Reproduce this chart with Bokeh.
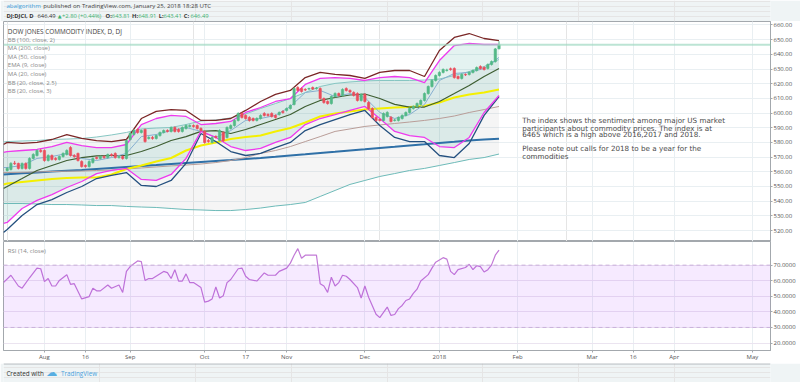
from bokeh.plotting import figure
from bokeh.layouts import column
from bokeh.models import (ColumnDataSource, FixedTicker, Grid, Label, Span, BoxAnnotation,
                          PrintfTickFormatter, Range1d)
from bokeh.embed import file_html
from bokeh.resources import INLINE

# ---------------- data ----------------
bar_index = list(range(133))   # trading-day index, 0 = 2017-07-18, 132 = 2018-01-25
opens = [560.9, 561.6, 565.9, 565.7, 562.3, 565.7, 562.3, 569.1, 571.1, 574.5,
         574.5, 567.7, 571.1, 569.1, 568.4, 570.4, 571.8, 576.5, 571.1, 572.5,
         567.0, 564.3, 563.6, 566.3, 569.7, 569.1, 570.4, 569.7, 571.8, 572.5,
         569.7, 570.4, 569.1, 582.0, 585.4, 588.8, 586.8, 588.8, 582.7, 583.4,
         582.7, 584.7, 586.8, 588.1, 587.5, 590.2, 588.8, 587.5, 589.5, 590.9,
         591.5, 591.5, 589.5, 587.5, 581.3, 580.0, 584.0, 581.3, 586.8, 583.4,
         589.5, 591.5, 595.0, 599.7, 598.4, 597.0, 596.3, 595.0, 596.3, 599.7,
         599.0, 599.7, 598.4, 599.0, 601.1, 601.8, 603.1, 605.9, 617.4, 616.7,
         616.1, 616.4, 617.4, 616.7, 616.7, 609.9, 607.9, 606.5, 611.3, 613.3,
         612.0, 616.7, 615.4, 614.0, 613.3, 608.6, 612.7, 607.2, 603.1, 597.0,
         595.6, 595.0, 597.7, 597.0, 595.0, 595.0, 596.3, 598.4, 600.4, 603.1,
         604.5, 605.9, 608.6, 613.3, 618.1, 622.2, 625.6, 627.7, 629.0, 630.2,
         630.4, 624.9, 623.6, 626.3, 626.3, 627.7, 629.0, 631.7, 631.0, 630.4,
         633.1, 635.1, 643.81]
closes = [562.3, 565.7, 565.5, 562.3, 565.7, 562.3, 569.1, 571.8, 574.5, 573.8,
          567.7, 571.1, 568.4, 568.4, 570.4, 572.5, 574.5, 571.1, 570.4, 567.7,
          563.6, 563.6, 567.0, 569.1, 569.1, 570.4, 569.7, 571.8, 571.1, 569.7,
          570.4, 569.1, 581.3, 586.1, 588.1, 586.8, 588.1, 580.6, 583.4, 582.7,
          584.7, 586.8, 588.1, 587.5, 590.2, 587.5, 587.5, 590.2, 591.5, 591.5,
          590.9, 589.5, 588.1, 580.0, 580.6, 583.4, 583.4, 588.1, 581.3, 590.2,
          591.5, 595.0, 599.7, 597.0, 596.3, 595.0, 595.0, 596.3, 598.4, 598.4,
          598.4, 597.7, 597.0, 600.4, 600.4, 603.1, 605.2, 616.7, 615.4, 614.7,
          615.7, 616.7, 616.4, 617.1, 609.9, 607.2, 606.5, 611.3, 613.3, 612.0,
          616.1, 615.4, 614.4, 612.0, 608.6, 612.7, 607.9, 603.1, 597.0, 595.0,
          595.0, 599.7, 600.4, 594.3, 595.3, 597.0, 598.4, 600.4, 603.1, 604.5,
          606.5, 608.6, 613.3, 618.1, 622.2, 625.6, 627.7, 629.7, 629.3, 629.6,
          624.2, 623.6, 626.3, 626.0, 627.7, 629.0, 631.0, 630.4, 629.7, 633.1,
          635.1, 643.69, 646.49]
highs = [563.2, 566.5, 567.4, 566.2, 566.3, 566.4, 569.8, 572.6, 575.3, 575.6,
         575.2, 571.9, 571.8, 569.9, 571.0, 573.2, 575.3, 577.4, 572.0, 573.1,
         567.8, 565.0, 567.8, 569.8, 570.5, 571.0, 571.2, 572.4, 572.5, 573.2,
         571.0, 571.2, 582.0, 587.0, 589.0, 589.6, 588.8, 589.5, 584.2, 584.3,
         585.4, 587.4, 588.8, 588.9, 590.9, 590.9, 589.6, 590.9, 592.3, 592.3,
         592.2, 592.2, 590.3, 588.2, 582.3, 584.2, 584.8, 588.9, 587.5, 590.9,
         592.3, 595.8, 600.5, 600.5, 599.1, 597.8, 597.0, 597.1, 599.1, 600.6,
         599.8, 600.5, 599.1, 601.1, 601.9, 603.8, 605.9, 617.5, 618.3, 617.5,
         616.9, 617.3, 618.1, 617.8, 617.5, 610.6, 608.6, 612.0, 614.1, 614.0,
         616.8, 617.5, 616.1, 614.8, 614.1, 613.4, 613.5, 608.0, 603.9, 597.8,
         596.3, 600.4, 601.2, 598.0, 596.0, 597.7, 599.1, 601.1, 603.8, 605.2,
         607.2, 609.3, 614.0, 618.8, 622.9, 626.3, 628.4, 630.4, 630.2, 631.0,
         631.1, 625.6, 627.0, 627.0, 628.4, 629.7, 631.7, 632.5, 631.8, 633.8,
         635.8, 644.3, 648.91]
lows = [560.2, 560.9, 564.7, 561.6, 561.6, 561.5, 561.6, 568.4, 570.4, 573.0,
        566.9, 567.0, 567.7, 567.6, 567.7, 569.7, 571.1, 570.4, 569.6, 567.0,
        562.9, 562.8, 562.9, 565.6, 568.4, 568.4, 568.9, 569.0, 570.4, 569.0,
        569.0, 568.3, 568.4, 581.3, 584.7, 586.0, 586.1, 579.9, 582.0, 581.9,
        582.0, 584.0, 586.1, 586.8, 586.8, 586.8, 586.7, 586.8, 588.8, 590.2,
        590.1, 588.8, 587.4, 579.2, 579.8, 579.3, 582.6, 580.6, 580.5, 582.7,
        588.8, 590.8, 594.3, 596.3, 595.6, 594.2, 594.3, 594.3, 595.6, 597.7,
        597.6, 597.0, 596.3, 598.3, 599.6, 601.1, 602.4, 605.2, 614.7, 614.0,
        615.0, 615.7, 615.7, 616.0, 609.2, 606.4, 605.8, 605.8, 610.6, 611.3,
        611.3, 614.7, 613.7, 611.3, 607.9, 607.9, 607.2, 602.4, 596.3, 594.2,
        594.3, 594.3, 597.0, 593.6, 594.3, 594.3, 595.6, 597.7, 599.7, 602.4,
        603.8, 605.2, 607.9, 612.6, 617.4, 621.5, 624.9, 627.0, 628.3, 628.9,
        623.5, 622.9, 622.9, 625.3, 625.6, 627.0, 628.3, 629.7, 629.0, 629.7,
        632.4, 634.4, 643.41]

# indicator lines, read every 4th bar (first point = left edge of the pane)
ind_bars = [-1, 0, 4, 8, 12, 16, 20, 24, 28, 32, 36, 40, 44, 48, 52, 56, 60, 64, 68,
            72, 76, 80, 84, 88, 92, 96, 100, 104, 108, 112, 116, 120, 124, 128, 132]
bb100_upper = [580.3, 580.6, 581.0, 581.3, 582.0, 582.3, 582.7, 583.7, 585.1, 586.8,
               589.2, 589.8, 590.2, 592.2, 594.6, 595.3, 596.7, 599.4, 603.1, 606.5,
               609.9, 614.0, 618.1, 620.2, 621.2, 621.9, 622.2, 622.2, 622.2, 622.5,
               623.2, 625.6, 628.3, 631.7, 636.5]
bb100_basis = [559.5, 559.5, 559.7, 559.9, 560.2, 560.4, 560.5, 560.9, 561.2, 561.9,
               562.6, 563.3, 564.0, 564.6, 565.3, 566.3, 567.7, 569.7, 572.5, 574.5,
               577.2, 580.6, 584.0, 587.5, 589.2, 590.9, 591.9, 592.9, 593.9, 595.0,
               596.3, 598.0, 600.4, 602.4, 604.5]
bb100_lower = [538.4, 538.4, 538.4, 538.1, 537.7, 537.7, 537.4, 537.0, 537.0, 536.4,
               536.0, 535.7, 535.0, 534.3, 534.0, 533.6, 533.6, 534.3, 535.3, 536.7,
               537.7, 539.1, 543.2, 547.3, 551.4, 554.1, 556.8, 558.8, 560.9, 562.3,
               564.3, 566.3, 568.4, 569.7, 572.1]
ma200 = [558.2, 558.4, 559.0, 559.5, 560.2, 560.7, 561.2, 561.9, 562.6, 563.3,
         564.0, 564.6, 565.3, 566.0, 566.7, 567.4, 568.0, 568.7, 569.4, 570.2,
         571.1, 571.9, 572.8, 573.6, 574.5, 575.3, 576.2, 577.0, 577.9, 578.7,
         579.6, 580.4, 581.3, 582.0, 582.5]
ma50 = [551.4, 552.0, 553.1, 554.1, 555.1, 555.8, 556.1, 556.1, 558.2, 561.9,
        564.3, 567.0, 569.4, 574.5, 577.9, 580.0, 582.4, 583.7, 584.7, 587.5,
        589.8, 593.6, 597.7, 599.7, 601.1, 602.4, 603.1, 603.8, 604.1, 604.8,
        607.2, 610.6, 612.7, 614.0, 616.1]
ema9 = [562.9, 562.9, 564.3, 569.1, 570.4, 572.5, 569.1, 567.7, 569.7, 572.5,
        584.0, 585.4, 588.1, 590.2, 587.5, 583.4, 588.1, 595.0, 596.3, 598.4,
        604.5, 614.0, 615.4, 611.3, 613.3, 610.6, 600.4, 596.3, 599.0, 605.9,
        622.2, 627.0, 627.7, 630.4, 637.9]
ma20 = [548.6, 550.0, 555.4, 560.9, 564.3, 567.7, 569.7, 570.8, 571.1, 571.1,
        573.8, 577.2, 581.3, 584.0, 587.5, 588.1, 586.1, 588.8, 592.2, 595.6,
        599.0, 604.5, 608.6, 610.6, 612.3, 613.0, 609.9, 605.9, 604.1, 604.1,
        607.9, 613.3, 618.8, 624.9, 630.4]
bb20_25_upper = [573.2, 573.8, 574.5, 575.2, 577.2, 580.0, 577.9, 576.5, 576.5, 578.6,
                 592.2, 596.3, 598.4, 597.7, 592.2, 592.9, 594.3, 600.4, 603.8, 607.9,
                 609.9, 619.5, 623.6, 624.2, 623.6, 622.2, 624.2, 624.9, 624.2, 620.8,
                 635.8, 646.0, 647.4, 646.7, 646.7]
bb20_25_lower = [524.8, 525.5, 535.0, 540.5, 544.5, 549.3, 553.4, 558.8, 560.9, 562.3,
                 554.8, 554.1, 558.2, 569.1, 587.5, 583.4, 577.2, 574.5, 575.9, 580.0,
                 583.4, 592.2, 596.3, 599.0, 601.8, 604.5, 596.3, 587.5, 584.7, 583.4,
                 577.2, 576.5, 583.4, 600.4, 612.0]
bb20_3_upper = [578.6, 580.0, 579.3, 580.0, 582.0, 585.4, 582.7, 581.3, 580.6, 582.0,
                596.3, 601.1, 602.4, 601.8, 595.0, 595.0, 596.3, 601.8, 607.9, 612.7,
                615.4, 624.2, 627.7, 626.3, 625.6, 623.6, 627.7, 629.0, 629.0, 624.9,
                642.6, 651.5, 654.2, 650.8, 649.4]
bb20_3_lower = [518.7, 520.7, 530.2, 537.7, 541.1, 545.9, 550.0, 555.4, 557.5, 559.5,
                550.7, 550.0, 554.1, 565.7, 586.1, 580.6, 573.8, 571.1, 572.5, 576.5,
                580.0, 588.1, 592.2, 595.6, 599.0, 601.8, 591.5, 583.4, 580.6, 580.6,
                571.1, 569.7, 579.3, 598.4, 611.3]

rsi_bars = [-1, 1, 3, 4, 6, 8, 9, 10, 11, 12, 13, 14, 16, 17, 18, 20, 22, 23, 24, 25,
            27, 28, 30, 31, 32, 33, 35, 36, 37, 38, 39, 42, 43, 44, 45, 46, 47, 48, 49, 50,
            52, 53, 54, 55, 56, 57, 58, 59, 60, 62, 63, 64, 65, 67, 69, 70, 72, 73, 75, 76,
            77, 78, 79, 80, 83, 84, 85, 86, 87, 88, 89, 90, 91, 92, 94, 95, 96, 97, 99, 100,
            102, 103, 104, 105, 106, 107, 108, 109, 110, 111, 113, 114, 115, 117, 118, 119,
            120, 121, 123, 124, 125, 126, 127, 128, 129, 130, 131, 132]
rsi_vals = [58.8, 63.5, 56.6, 55.2, 61.9, 68.1, 67.7, 59.4, 61.4, 56.6, 56.6, 60.2, 63.9,
            57.7, 58.1, 48.3, 49.8, 55.2, 53.5, 53.5, 57.3, 55.2, 57.3, 52.5, 66.0, 69.1,
            72.7, 72.3, 60.2, 61.4, 61.4, 66.0, 65.2, 61.4, 67.1, 59.8, 59.8, 64.4, 58.8,
            58.8, 55.6, 46.3, 46.9, 48.3, 56.0, 48.9, 50.4, 58.8, 60.8, 67.7, 68.1, 62.9,
            60.8, 59.8, 65.0, 63.5, 63.5, 66.0, 68.1, 71.3, 76.4, 80.6, 74.4, 76.4, 76.4,
            58.1, 56.6, 52.5, 62.3, 56.6, 58.8, 63.5, 62.9, 60.8, 55.6, 48.9, 56.6, 49.4,
            38.5, 36.3, 43.1, 37.7, 38.3, 42.1, 44.1, 47.3, 48.3, 51.9, 54.6, 59.8, 63.9,
            68.1, 71.9, 74.8, 73.9, 66.0, 63.9, 67.1, 68.5, 70.6, 67.1, 69.6, 69.1, 65.6,
            67.1, 70.2, 76.4, 79.6]

tick_bars = [10, 21, 33, 53, 64, 75, 96, 116, 137, 157, 168, 179, 200]
tick_labels = ["Aug", "16", "Sep", "Oct", "17", "Nov", "Dec", "2018", "Feb", "Mar", "16", "Apr", "May"]
price_ticks = [520, 530, 540, 550, 560, 570, 580, 590, 600, 610, 620, 630, 640, 650, 660]
rsi_ticks = [20, 30, 40, 50, 60, 70]
last_price = 646.49

legend_title = "DOW JONES COMMODITY INDEX, D, DJ"
legend_items = ["BB (100, close, 2)", "MA (200, close)", "MA (50, close)", "EMA (9, close)",
                "MA (20, close)", "BB (20, close, 2.5)", "BB (20, close, 3)"]
note_lines = ["The index shows the sentiment among major US market",
              "participants about commodity prices. The index is at",
              "6465 which is a high above 2016,2017 and 2018.",
              "",
              "Please note out calls for 2018 to be a year for the",
              "commodities"]

# ---------------- style ----------------
W = 800
F = "Open Sans"
BG = "#eff4f5"
GRID = "#e9eff2"
BORDER = "#a3a8ad"
UP, DN = "#53b987", "#eb4d5c"
AX_TXT = "#555555"


def lab(fig, x, y, t, color="#333333", size="6px", style="normal", font=F, xs="data"):
    fig.add_layout(Label(x=x, y=y, x_units=xs, text=t, text_color=color, text_font_size=size,
                         text_font=font, text_font_style=style, text_baseline="middle"))


# ---------------- header ----------------
hdr = figure(width=W, height=21, x_range=Range1d(0, W), y_range=Range1d(0, 21),
             x_axis_location=None, y_axis_location=None, toolbar_location=None,
             output_backend="svg", min_border=0)
hdr.background_fill_color = BG
hdr.border_fill_color = BG
hdr.outline_line_color = None

lab(hdr, 3, 16, "abalgorithm", color="#3fa0dc", size="6.1px")
lab(hdr, 41.5, 16, "published on TradingView.com, January 25, 2018 18:28 UTC", color="#444444", size="6.1px")
G = "#3cb371"
L2 = 6
lab(hdr, 3, L2, "DJ:DJCI, D", style="bold", size="5.8px")
lab(hdr, 35.5, L2, "646.49", size="5.8px")
lab(hdr, 56.5, L2, "\u25B2", color=G, size="5px", font="DejaVu Sans")
lab(hdr, 61, L2, "+2.80 (+0.44%)", color=G, size="5.8px")
lab(hdr, 106.5, L2, "O:", style="bold", size="5.8px")
lab(hdr, 113, L2, "643.81", color=G, size="5.8px")
lab(hdr, 134, L2, "H:", style="bold", size="5.8px")
lab(hdr, 140.5, L2, "648.91", color=G, size="5.8px")
lab(hdr, 162, L2, "L:", style="bold", size="5.8px")
lab(hdr, 167, L2, "643.41", color=G, size="5.8px")
lab(hdr, 188, L2, "C:", style="bold", size="5.8px")
lab(hdr, 195, L2, "646.49", color=G, size="5.8px")

# ---------------- main price pane ----------------
p = figure(width=W, height=220, x_range=Range1d(-0.99, 204.86), y_range=Range1d(512.52, 662.38),
           x_axis_location=None, y_axis_location="right", toolbar_location=None,
           output_backend="svg", min_border_left=3, min_border_right=30,
           min_border_top=0, min_border_bottom=0)
p.background_fill_color = "white"
p.border_fill_color = "white"
p.outline_line_color = BORDER
pt = FixedTicker(ticks=price_ticks)
p.yaxis.ticker = pt
p.ygrid.ticker = pt
p.ygrid.grid_line_color = GRID
p.yaxis.formatter = PrintfTickFormatter(format="%.2f")
p.yaxis.major_label_text_font = F
p.yaxis.major_label_text_font_size = "6px"
p.yaxis.major_label_text_color = AX_TXT
p.yaxis.axis_line_color = BORDER
p.yaxis.major_tick_line_color = BORDER
p.yaxis.major_tick_out = 2
p.yaxis.major_tick_in = 0
p.yaxis.minor_tick_line_color = None
p.yaxis.major_label_standoff = 1
p.add_layout(Grid(dimension=0, ticker=FixedTicker(ticks=tick_bars), grid_line_color=GRID))

# band fills
p.varea(x=ind_bars, y1=bb100_lower, y2=bb100_upper, fill_color="#a8a8a8", fill_alpha=0.11)
p.varea(x=ind_bars, y1=bb20_25_lower, y2=bb20_25_upper, fill_color="#1f9e8f", fill_alpha=0.12)

# price line
p.add_layout(Span(location=last_price, dimension="width", line_color="#9fd9c2",
                  line_width=2, line_alpha=0.7))

# indicator lines
p.line(ind_bars, bb100_lower, line_color="#6dbab8", line_width=1)
p.line(ind_bars, bb100_upper, line_color="#86c6c2", line_width=1)
p.line(ind_bars, ma200, line_color="#2f70a7", line_width=2)
p.line(ind_bars, bb100_basis, line_color="#b99d98", line_width=1)
p.line(ind_bars, ma50, line_color="#f4f000", line_width=2)
p.line(ind_bars, ma20, line_color="#3e5e32", line_width=1.2)
p.line(ind_bars, ema9, line_color="#86afd0", line_width=1)
p.line(ind_bars, bb20_3_upper, line_color="#7a2626", line_width=1.3)
p.line(ind_bars, bb20_3_lower, line_color="#24507f", line_width=1.3)
p.line(ind_bars, bb20_25_upper, line_color="#ee3aee", line_width=1.3)
p.line(ind_bars, bb20_25_lower, line_color="#ee3aee", line_width=1.3)

# candles
src = ColumnDataSource(dict(
    x=bar_index, high=highs, low=lows,
    top=[max(o, c) for o, c in zip(opens, closes)],
    bottom=[min(o, c) for o, c in zip(opens, closes)],
    color=[UP if c >= o else DN for o, c in zip(opens, closes)]))
p.segment(x0="x", y0="low", x1="x", y1="high", line_color="color", line_width=1, source=src)
p.vbar(x="x", width=0.62, top="top", bottom="bottom", fill_color="color",
       line_color="color", line_width=0.6, source=src)

# legend texts (screen x, price y)
lab(p, 4.3, 655.8, legend_title, color="#3a3a3a", size="6.4px", xs="screen")
for k, t in enumerate(legend_items):
    lab(p, 4.3, 649.9 - 5.83 * k, t, color="#888888", size="6px", xs="screen")

note_y = [594.9, 589.7, 585.2, 580.4, 575.7, 570.4]
for t, yy in zip(note_lines, note_y):
    if t:
        lab(p, 518.7, yy, t, color="#4a4a4a", size="7.2px", font="DejaVu Sans", xs="screen")

# last price tag on the axis
p.add_layout(Label(x=767.5, x_units="screen", y=last_price, text=" 646.49 ",
                   text_color="white", text_font_size="6px", text_font=F,
                   text_baseline="middle", background_fill_color=UP,
                   border_line_color=UP))

# ---------------- RSI pane ----------------
r = figure(width=W, height=122, x_range=p.x_range, y_range=Range1d(15.19, 85.19),
           y_axis_location="right", toolbar_location=None, output_backend="svg",
           min_border_left=3, min_border_right=30, min_border_top=0, min_border_bottom=10)
r.background_fill_color = "white"
r.border_fill_color = "white"
r.outline_line_color = BORDER
rt = FixedTicker(ticks=rsi_ticks)
r.yaxis.ticker = rt
r.ygrid.ticker = rt
r.ygrid.grid_line_color = "#ebe4f0"
r.yaxis.formatter = PrintfTickFormatter(format="%.4f")
xt = FixedTicker(ticks=tick_bars)
r.xaxis.ticker = xt
r.xgrid.ticker = xt
r.xgrid.grid_line_color = GRID
r.xaxis.major_label_overrides = {b: l for b, l in zip(tick_bars, tick_labels)}
for ax in (r.xaxis, r.yaxis):
    ax.major_label_text_font = F
    ax.major_label_text_font_size = "6px"
    ax.major_label_text_color = AX_TXT
    ax.axis_line_color = BORDER
    ax.major_tick_line_color = BORDER
    ax.minor_tick_line_color = None
    ax.major_tick_in = 0
r.yaxis.major_tick_out = 2
r.yaxis.major_label_standoff = 1
r.xaxis.major_tick_out = 2
r.xaxis.major_label_standoff = 0

r.add_layout(BoxAnnotation(bottom=30, top=70, fill_color="#9915ff", fill_alpha=0.09,
                           line_color=None))
for lv in (70, 30):
    r.add_layout(Span(location=lv, dimension="width", line_color="#c9b2da",
                      line_dash="4 3", line_width=1))
r.line(rsi_bars, rsi_vals, line_color="#c27ad6", line_width=1.2)
lab(r, 4.3, 78.9, "RSI (14, close)", color="#888888", size="6px", xs="screen")

# ---------------- footer ----------------
ftr = figure(width=W, height=19, x_range=Range1d(0, W), y_range=Range1d(0, 19),
             x_axis_location=None, y_axis_location=None, toolbar_location=None,
             output_backend="svg", min_border=0)
ftr.background_fill_color = BG
ftr.border_fill_color = BG
ftr.outline_line_color = None
ftr.add_layout(Span(location=18.6, dimension="width", line_color=BORDER, line_width=1))
lab(ftr, 3, 9, "Created with", color="#333333", size="6.3px")
lab(ftr, 44.5, 9.6, "\u2601", color="#57aee2", size="11px", font="DejaVu Sans")
lab(ftr, 60, 9, "TradingView", color="#4aa3df", size="6.3px")

lay = column(hdr, p, r, ftr, spacing=0)
open("out.html", "w").write(file_html(lay, INLINE, "DJCI"))
